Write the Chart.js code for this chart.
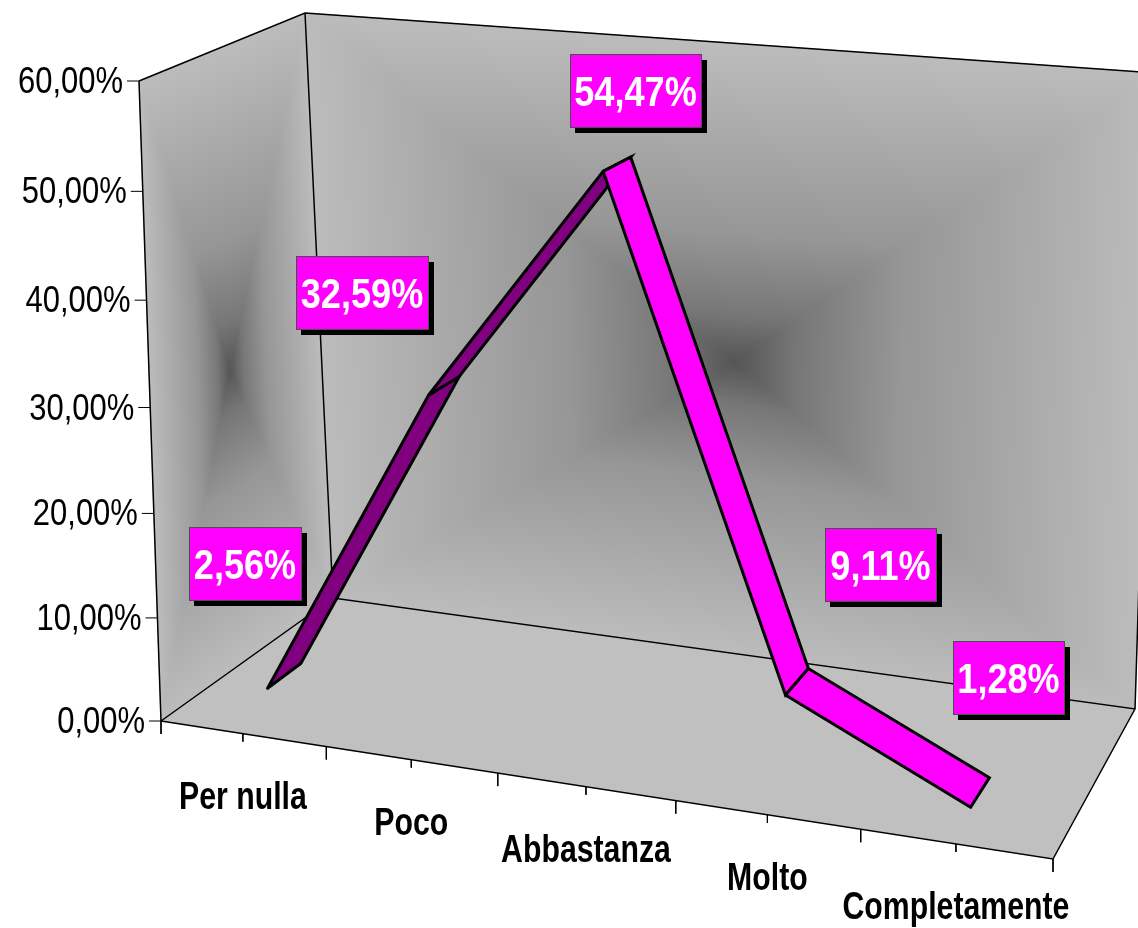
<!DOCTYPE html>
<html lang='en'>

<head>
  <meta charset='UTF-8'>
  <title>Per nulla - Completamente</title>
  <style>
    html, body {
      margin: 0;
      padding: 0;
      background: #fff;
    }

    #chart {
      display: block;
      width: 1138px;
      height: 928px;
    }
  </style>
  <script src="https://cdn.jsdelivr.net/npm/chart.js@4/dist/chart.umd.min.js"></script>
</head>

<body>
<canvas id="chart" width="1138" height="928"></canvas>
<script>
  // Values
  const categories = ['Per nulla', 'Poco', 'Abbastanza', 'Molto', 'Completamente'];
  const percentages = [2.56, 32.59, 54.47, 9.11, 1.28];
  const valueTicks = [0, 10, 20, 30, 40, 50, 60];
  const maxValue = 60;

  // Box corners of the 3D scene on the picture
  const A = {x: 161, y: 721};   // floor, front left
  const B = {x: 1053, y: 859};  // floor, front right
  const C = {x: 333, y: 598};   // floor, back left
  const D = {x: 1135, y: 709};  // floor, back right
  const E = {x: 305, y: 13};    // top, back left
  const F = {x: 1155, y: 73};   // top, back right
  const G = {x: 139, y: 81};    // top, front left
  const sideCentre = {x: 230, y: 370};
  const backCentre = {x: 735, y: 362};

  // Perspective terms: along categories, along depth, along height
  const persp = {u: -0.0901, w: 0.1214, v: -0.04};
  const ribbonDepth = {front: 0.14, back: 0.33};

  // Boxes of the value labels, left and top
  const labelLeft = [189, 296, 570, 825, 953];
  const labelTop = [527, 256, 54, 528, 641];
  const labelWidth = [112, 132, 131, 111, 111];
  const labelHeight = 73;

  const project = (u, w, v) => {
    const p = axis => {
      const X = B[axis] * (1 + persp.u) - A[axis];
      const Z = C[axis] * (1 + persp.w) - A[axis];
      const Y = G[axis] * (1 + persp.v) - A[axis];
      return A[axis] + u * X + w * Z + v * Y;
    };
    const den = 1 + persp.u * u + persp.w * w + persp.v * v;
    return {x: p('x') / den, y: p('y') / den};
  };

  const ctx = document.getElementById('chart').getContext('2d');
  const gap = {x: NaN, y: NaN};

  // Rectangular gradient: one triangle per wall side, darkest in the middle
  const wallTriangle = (centre, p, q) => {
    const dx = q.x - p.x, dy = q.y - p.y;
    const t = ((centre.x - p.x) * dx + (centre.y - p.y) * dy) / (dx * dx + dy * dy);
    const foot = {x: p.x + t * dx, y: p.y + t * dy};
    const g = ctx.createLinearGradient(centre.x, centre.y, foot.x, foot.y);
    g.addColorStop(0, '#555555');
    g.addColorStop(0.15, '#777777');
    g.addColorStop(0.4, '#969696');
    g.addColorStop(1, '#bcbcbc');
    // the border in the same gradient hides the seams between triangles
    return polygon([centre, p, q], g, g, 1);
  };

  const polygon = (points, color, border, borderWidth) => ({
    data: [...points, points[0]],
    backgroundColor: color,
    fill: 'shape',
    showLine: true,
    borderColor: border || 'rgba(0,0,0,0)',
    borderWidth: borderWidth || 0,
    borderCapStyle: 'round',
    pointRadius: 0,
    tension: 0
  });

  const edges = (data, width) => ({
    data: data,
    showLine: true,
    fill: false,
    borderColor: '#000',
    borderWidth: width,
    pointRadius: 0,
    tension: 0,
    spanGaps: false
  });

  const wall = (centre, corners) => corners.map((c, i) => wallTriangle(centre, c, corners[(i + 1) % corners.length]));

  const categoryU = i => (i + 0.5) / categories.length;

  // One quad of the ribbon between two neighbouring categories
  const ribbon = (i, color) => {
    const u0 = categoryU(i), u1 = categoryU(i + 1);
    const v0 = percentages[i] / maxValue, v1 = percentages[i + 1] / maxValue;
    return polygon([
      project(u0, ribbonDepth.front, v0),
      project(u0, ribbonDepth.back, v0),
      project(u1, ribbonDepth.back, v1),
      project(u1, ribbonDepth.front, v1)
    ], color, '#000', 3);
  };

  const valueTickLines = valueTicks.flatMap(t => {
    const p = project(0, 0, t / maxValue);
    return [{x: p.x - 12, y: p.y}, p, gap];
  });

  // Ten ticks under the floor, the ones between categories are longer
  const categoryTickLines = [];
  for (let i = 0; i <= categories.length * 2; i++) {
    const p = project(i / (categories.length * 2), 0, 0);
    categoryTickLines.push(p, {x: p.x, y: p.y + (i % 2 ? 8 : 13)}, gap);
  }

  const frame = [A, G, gap, G, E, F, gap, E, C, gap, A, C, D, F, gap, A, B, D];

  const datasets = [
    ...wall(sideCentre, [G, E, C, A]),
    ...wall(backCentre, [E, F, D, C]),
    polygon([A, B, D, C], '#c0c0c0'),
    edges(frame, 1.5),
    edges(valueTickLines, 1),
    edges(categoryTickLines, 1),
    ribbon(0, '#800080'),
    ribbon(1, '#800080'),
    ribbon(2, '#ff00ff'),
    ribbon(3, '#ff00ff')
  ];
  // Chart.js paints the lowest order last
  datasets.forEach((d, i) => { d.order = -i; });

  const narrowText = (text, x, y, font, stretch, align, color) => {
    ctx.save();
    ctx.translate(x, y);
    ctx.scale(stretch, 1);
    ctx.font = font;
    ctx.fillStyle = color;
    ctx.textAlign = align;
    ctx.textBaseline = 'alphabetic';
    ctx.fillText(text, 0, 0);
    ctx.restore();
  };

  const sceneText = {
    id: 'sceneText',
    afterDatasetsDraw(chart) {
      const sx = chart.scales.x, sy = chart.scales.y;

      valueTicks.forEach(t => {
        const p = project(0, 0, t / maxValue);
        narrowText(t.toFixed(2).replace('.', ',') + '%', sx.getPixelForValue(p.x) - 16, sy.getPixelForValue(p.y) + 12,
          "36px 'Liberation Sans'", 0.86, 'right', '#000');
      });

      categories.forEach((name, i) => {
        const p = project(categoryU(i), 0, 0);
        narrowText(name, sx.getPixelForValue(p.x), sy.getPixelForValue(p.y) + 75,
          "bold 38px 'Liberation Sans'", 0.796, 'center', '#000');
      });

      percentages.forEach((value, i) => {
        const x = labelLeft[i], y = labelTop[i], w = labelWidth[i];
        ctx.fillStyle = '#000';
        ctx.fillRect(x + 5, y + 6, w + 1, labelHeight);
        ctx.fillStyle = '#ff00ff';
        ctx.strokeStyle = '#4d4d4d';
        ctx.lineWidth = 1;
        ctx.fillRect(x, y, w, labelHeight);
        ctx.strokeRect(x + 0.5, y + 0.5, w, labelHeight);
        narrowText(value.toFixed(2).replace('.', ',') + '%', x + w / 2, y + 52,
          "bold 43px 'Liberation Sans'", 0.84, 'center', '#fff');
      });
    }
  };

  new Chart(ctx, {
    type: 'scatter',
    data: {datasets: datasets},
    plugins: [sceneText],
    options: {
      responsive: false,
      animation: false,
      layout: {padding: 0},
      plugins: {legend: {display: false}, tooltip: {enabled: false}},
      scales: {
        x: {type: 'linear', display: false, min: 0, max: 1138},
        y: {type: 'linear', display: false, min: 0, max: 928, reverse: true}
      }
    }
  });
</script>
</body>

</html>
